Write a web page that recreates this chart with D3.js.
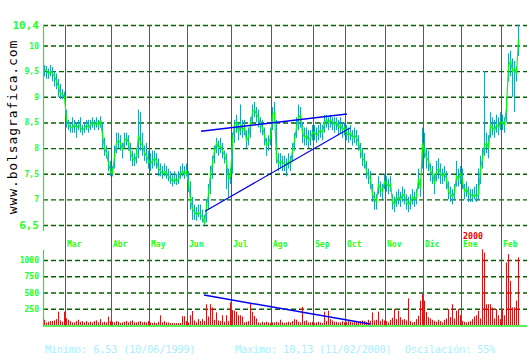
<!DOCTYPE html>
<html><head><meta charset="utf-8">
<script src="https://cdn.jsdelivr.net/npm/d3@7"></script>
<style>html,body{margin:0;padding:0;background:#fff;}svg{display:block;}</style>
</head><body>
<script>
const close = [
9.55,9.5,9.45,9.5,9.45,9.4,9.3,9.2,9.05,9.05,
9.0,8.55,8.45,8.4,8.4,8.45,8.4,8.45,8.4,8.35,
8.4,8.45,8.4,8.45,8.5,8.45,8.5,8.45,8.55,8.25,
8.0,7.9,7.7,7.55,7.5,7.85,8.1,8.15,8.1,7.95,
8.15,8.2,8.1,7.9,7.8,7.75,7.85,8.25,8.1,8.05,
7.9,7.85,7.75,7.7,7.75,7.8,7.75,7.6,7.55,7.5,
7.55,7.5,7.45,7.4,7.35,7.4,7.35,7.4,7.5,7.55,
7.5,7.55,7.3,7.0,6.8,6.75,6.7,6.75,6.7,6.65,
6.53,6.85,7.1,7.5,7.7,7.95,8.1,8.0,8.05,7.95,
7.85,7.75,7.4,7.45,8.15,8.45,8.5,8.3,8.45,8.35,
8.4,8.15,8.2,8.45,8.7,8.75,8.65,8.6,8.45,8.4,
8.25,8.05,8.1,8.2,8.65,8.7,7.8,7.7,7.75,7.7,
7.7,7.65,7.75,7.7,7.95,8.15,8.4,8.6,8.65,8.3,
8.2,8.25,8.15,8.2,8.3,8.3,8.25,8.3,8.35,8.3,
8.5,8.55,8.5,8.55,8.5,8.45,8.5,8.4,8.45,8.35,
8.4,8.3,8.25,8.3,8.2,8.25,8.2,8.1,7.95,7.8,
7.75,7.55,7.45,7.4,7.1,7.0,6.95,7.3,7.2,7.15,
7.35,7.3,7.25,7.3,6.95,6.9,7.0,7.05,7.0,7.1,
7.05,6.95,6.9,6.95,7.05,7.0,7.05,7.4,7.2,8.1,
7.95,7.8,7.75,7.55,7.5,7.3,7.55,7.6,7.5,7.45,
7.5,7.4,7.15,7.1,7.05,7.15,7.45,7.4,7.5,7.35,
7.15,7.2,7.1,7.1,7.05,7.1,7.05,7.1,7.6,7.8,
8.05,8.1,8.0,8.45,8.4,8.35,8.45,8.4,8.5,8.5,
8.45,8.8,9.6,9.7,9.5,9.55,9.45,10.13];

const high = [
9.62,9.6,9.55,9.62,9.58,9.5,9.45,9.35,9.25,9.15,
9.1,8.75,8.55,8.5,8.6,8.55,8.5,8.55,8.6,8.45,
8.5,8.55,8.55,8.55,8.6,8.55,8.6,8.55,8.62,8.5,
8.2,8.05,7.95,7.75,7.65,8.05,8.3,8.3,8.25,8.1,
8.3,8.3,8.25,8.1,7.95,7.9,8.0,8.75,8.7,8.3,
8.05,8.1,7.95,7.9,7.95,7.95,7.9,7.8,7.7,7.65,
7.7,7.65,7.6,7.55,7.5,7.55,7.5,7.55,7.65,7.7,
7.65,7.7,7.55,7.35,7.05,6.9,6.85,6.9,6.9,6.8,
6.7,7.0,7.3,7.65,7.85,8.05,8.2,8.15,8.2,8.1,
7.95,7.9,7.6,7.6,8.3,8.55,8.65,8.5,8.85,8.55,
8.55,8.35,8.4,8.6,8.85,8.9,8.8,8.75,8.6,8.55,
8.4,8.2,8.25,8.4,8.8,8.9,8.55,7.9,7.9,7.85,
7.85,7.8,7.9,7.85,8.1,8.3,8.6,8.85,8.8,8.5,
8.4,8.4,8.35,8.35,8.45,8.45,8.4,8.45,8.5,8.45,
8.65,8.65,8.6,8.65,8.6,8.6,8.6,8.55,8.6,8.5,
8.5,8.45,8.4,8.45,8.35,8.4,8.35,8.25,8.1,8.0,
7.9,7.75,7.6,7.55,7.3,7.15,7.1,7.45,7.35,7.3,
7.5,7.45,7.4,7.45,7.1,7.05,7.15,7.2,7.15,7.25,
7.2,7.1,7.05,7.1,7.2,7.15,7.2,7.6,7.4,8.4,
8.3,8.0,7.95,7.7,7.65,7.5,7.75,7.8,7.7,7.6,
7.65,7.55,7.35,7.25,7.2,7.3,7.75,7.6,7.65,7.6,
7.3,7.35,7.25,7.2,7.2,7.25,7.3,7.6,7.85,8.0,
9.5,8.3,8.25,8.7,8.6,8.55,8.65,8.6,8.7,8.65,
8.6,9.0,9.85,9.9,9.75,9.7,9.6,10.4];

const low = [
9.4,9.35,9.35,9.4,9.3,9.2,9.15,9.0,8.95,8.95,
8.95,8.4,8.35,8.3,8.3,8.3,8.2,8.35,8.3,8.25,
8.3,8.35,8.3,8.35,8.4,8.35,8.4,8.35,8.4,8.0,
7.85,7.8,7.55,7.45,7.45,7.6,7.9,8.0,7.95,7.8,
8.0,8.05,7.95,7.75,7.65,7.65,7.7,7.8,7.95,7.85,
7.75,7.7,7.6,7.55,7.6,7.65,7.6,7.45,7.45,7.4,
7.45,7.4,7.35,7.3,7.25,7.3,7.28,7.3,7.4,7.45,
7.4,7.45,7.15,6.8,6.6,6.6,6.58,6.65,6.6,6.55,
6.5,6.55,6.8,7.1,7.4,7.7,7.9,7.85,7.9,7.8,
7.7,7.2,7.05,7.3,7.5,8.1,8.3,8.15,8.25,8.2,
8.25,8.0,8.05,8.2,8.5,8.6,8.5,8.4,8.3,8.25,
8.05,7.85,7.95,8.05,8.35,8.5,7.7,7.55,7.6,7.55,
7.55,7.45,7.6,7.55,7.75,7.95,8.2,8.35,8.4,8.1,
8.05,8.05,8.0,8.05,8.15,8.15,8.1,8.15,8.2,8.15,
8.3,8.4,8.35,8.4,8.35,8.3,8.35,8.25,8.3,8.2,
8.25,8.15,8.1,8.15,8.05,8.1,8.05,7.95,7.8,7.65,
7.6,7.4,7.3,7.2,6.95,6.8,6.8,7.1,7.05,7.0,
7.2,7.15,7.1,7.15,6.8,6.75,6.85,6.9,6.85,6.95,
6.9,6.8,6.75,6.8,6.9,6.85,6.9,7.2,7.05,7.6,
7.8,7.6,7.55,7.35,7.3,7.1,7.35,7.4,7.3,7.3,
7.35,7.2,7.0,6.95,6.9,7.0,7.25,7.25,7.3,7.2,
7.0,7.05,6.95,6.95,6.95,7.0,6.95,7.0,7.3,7.6,
7.85,7.9,7.8,8.2,8.25,8.2,8.3,8.25,8.35,8.35,
8.3,8.5,9.3,9.4,9.0,8.7,9.3,9.8];

const volume = [
80,40,50,60,60,70,90,205,70,50,
205,105,80,60,40,40,60,80,50,60,
40,60,40,50,40,60,70,40,90,40,
50,40,130,60,50,40,60,50,30,40,
50,60,40,60,70,40,40,50,60,40,
50,40,60,40,30,40,30,50,150,40,
60,40,40,30,30,30,30,30,30,135,
135,60,40,150,215,70,40,90,60,90,
60,320,130,320,270,80,195,70,60,150,
50,150,60,350,230,220,205,150,150,130,
40,50,60,335,205,140,100,40,30,50,
40,50,40,30,40,40,50,40,80,40,
30,40,50,40,60,90,80,50,40,280,
60,70,40,40,50,30,40,50,40,30,
205,60,220,90,70,50,50,40,40,60,
40,50,60,50,40,60,50,50,60,70,
60,50,80,60,195,70,80,205,60,90,
70,60,40,80,110,245,90,220,120,80,
90,70,410,60,40,50,90,140,375,475,
375,200,120,100,80,60,50,80,60,40,
80,100,245,120,320,100,220,245,150,60,
50,40,50,60,90,130,150,220,100,1165,
1115,320,320,320,270,100,245,150,90,245,
150,960,1090,680,270,270,375,1040];

const monthNames = ["Mar","Abr","May","Jun","Jul","Ago","Sep","Oct","Nov","Dic","Ene","Feb"];
const monthStart = [11,34,53,72,94,114,135,151,171,190,209,229];
const priceTicks = [6.5,7,7.5,8,8.5,9,9.5,10,10.4];
const priceTickLabels = ["6,5","7","7,5","8","8,5","9","9,5","10","10,4"];
const volTicks = [250,500,750,1000];
const volTickLabels = ["250","500","750","1000"];
const trendUpper = [[78.5,8.33],[151.5,8.665]];
const trendLower = [[80.5,6.77],[153,8.39]];
const trendVolume = [[80,460],[163,15]];
const yearLabel = "2000";
const yearIndex = 209;
const siteText = "www.bolsagrafica.com";
const footer = ["Minimo: 6,53 (10/06/1999)","Maximo: 10,13 (11/02/2000)","Oscilación: 55%"];

const W = 530, H = 360;
const svg = d3.select("body").append("svg").attr("width", W).attr("height", H);
const mono = "'DejaVu Sans Mono', monospace";
const N = close.length;
const x = d3.scaleLinear().domain([0, N - 1]).range([44, 518]);
const y = d3.scaleLinear().domain([6.5, 10.4]).range([225, 25]);
const yv = d3.scaleLinear().domain([0, 1000]).range([325, 260]);
const left = 43, right = 527;

const gy = svg.append("g").attr("transform", `translate(${left},0)`)
  .call(d3.axisLeft(y).tickValues(priceTicks).tickFormat((d, i) => priceTickLabels[i])
    .tickSizeInner(-(right - left)).tickSizeOuter(0).tickPadding(4));
gy.select(".domain").remove();
gy.selectAll(".tick line").attr("stroke", "#006400").attr("stroke-width", 1.4).attr("stroke-dasharray", "5,3");
gy.selectAll(".tick text").attr("fill", "#22ff22").attr("font-family", mono).attr("font-weight", "bold")
  .attr("font-size", (d) => (d === 10.4 || d === 6.5) ? 11 : 8);

const gv = svg.append("g").attr("transform", `translate(${left},0)`)
  .call(d3.axisLeft(yv).tickValues(volTicks).tickFormat((d, i) => volTickLabels[i])
    .tickSizeInner(-(right - left)).tickSizeOuter(0).tickPadding(4));
gv.select(".domain").remove();
gv.selectAll(".tick line").attr("stroke", "#006400").attr("stroke-width", 1.4).attr("stroke-dasharray", "5,3");
gv.selectAll(".tick text").attr("fill", "#22ff22").attr("font-family", mono).attr("font-weight", "bold").attr("font-size", 8);

svg.append("g").selectAll("line").data(monthStart).join("line")
  .attr("x1", d => Math.round(x(d - 0.5)) + 0.5).attr("x2", d => Math.round(x(d - 0.5)) + 0.5)
  .attr("y1", 25).attr("y2", 326).attr("stroke", "#138a13").attr("stroke-width", 1);
svg.append("g").selectAll("text").data(monthStart).join("text")
  .attr("x", d => Math.round(x(d - 0.5)) + 2).attr("y", 247)
  .attr("fill", "#22ff22").attr("font-family", mono).attr("font-weight", "bold").attr("font-size", 8)
  .text((d, i) => monthNames[i]);
svg.append("text").attr("x", Math.round(x(yearIndex - 0.5)) + 2).attr("y", 239)
  .attr("fill", "#ee0000").attr("font-family", mono).attr("font-weight", "bold").attr("font-size", 8.3).text(yearLabel);

svg.append("line").attr("x1", left + 0.5).attr("x2", left + 0.5).attr("y1", 25).attr("y2", 231).attr("stroke", "#22ee22").attr("stroke-width", 1.2);
svg.append("line").attr("x1", left + 0.5).attr("x2", left + 0.5).attr("y1", 250).attr("y2", 326).attr("stroke", "#22ee22").attr("stroke-width", 1.2);
svg.append("line").attr("x1", left).attr("x2", right).attr("y1", 326).attr("y2", 326).attr("stroke", "#22ee22").attr("stroke-width", 1.5);

svg.append("g").selectAll("line").data(close).join("line")
  .attr("x1", (d, i) => x(i) + 0.5).attr("x2", (d, i) => x(i) + 0.5)
  .attr("y1", (d, i) => y(high[i])).attr("y2", (d, i) => y(low[i]))
  .attr("stroke", "#1ba3b8").attr("stroke-width", 1);

svg.append("path").datum(close)
  .attr("d", d3.line().x((d, i) => x(i) + 0.5).y(d => y(d)))
  .attr("fill", "none").attr("stroke", "#00ff00").attr("stroke-width", 1.2);

svg.append("g").selectAll("rect").data(volume).join("rect")
  .attr("x", (d, i) => x(i)).attr("width", 1)
  .attr("y", d => yv(d)).attr("height", d => yv(0) - yv(d))
  .attr("fill", "#dd1111");

const tl = d3.line().x(d => x(d[0])).y(d => y(d[1]));
svg.append("path").datum(trendUpper).attr("d", tl).attr("stroke", "#0000ee").attr("stroke-width", 1.5).attr("fill", "none");
svg.append("path").datum(trendLower).attr("d", tl).attr("stroke", "#0000ee").attr("stroke-width", 1.2).attr("fill", "none");
svg.append("path").datum(trendVolume).attr("d", d3.line().x(d => x(d[0])).y(d => yv(d[1])))
  .attr("stroke", "#0000ee").attr("stroke-width", 1.5).attr("fill", "none");

svg.append("text").attr("transform", "translate(17,127) rotate(-90)")
  .attr("text-anchor", "middle").attr("font-family", mono).attr("font-size", 13)
  .attr("letter-spacing", 0.9).attr("fill", "#000").text(siteText);

const fx = [45, 235, 405];
svg.append("g").selectAll("text").data(footer).join("text")
  .attr("x", (d, i) => fx[i]).attr("y", 353).attr("fill", "#a8eefc")
  .attr("font-family", mono).attr("font-size", 10).text(d => d);
</script>
</body></html>
